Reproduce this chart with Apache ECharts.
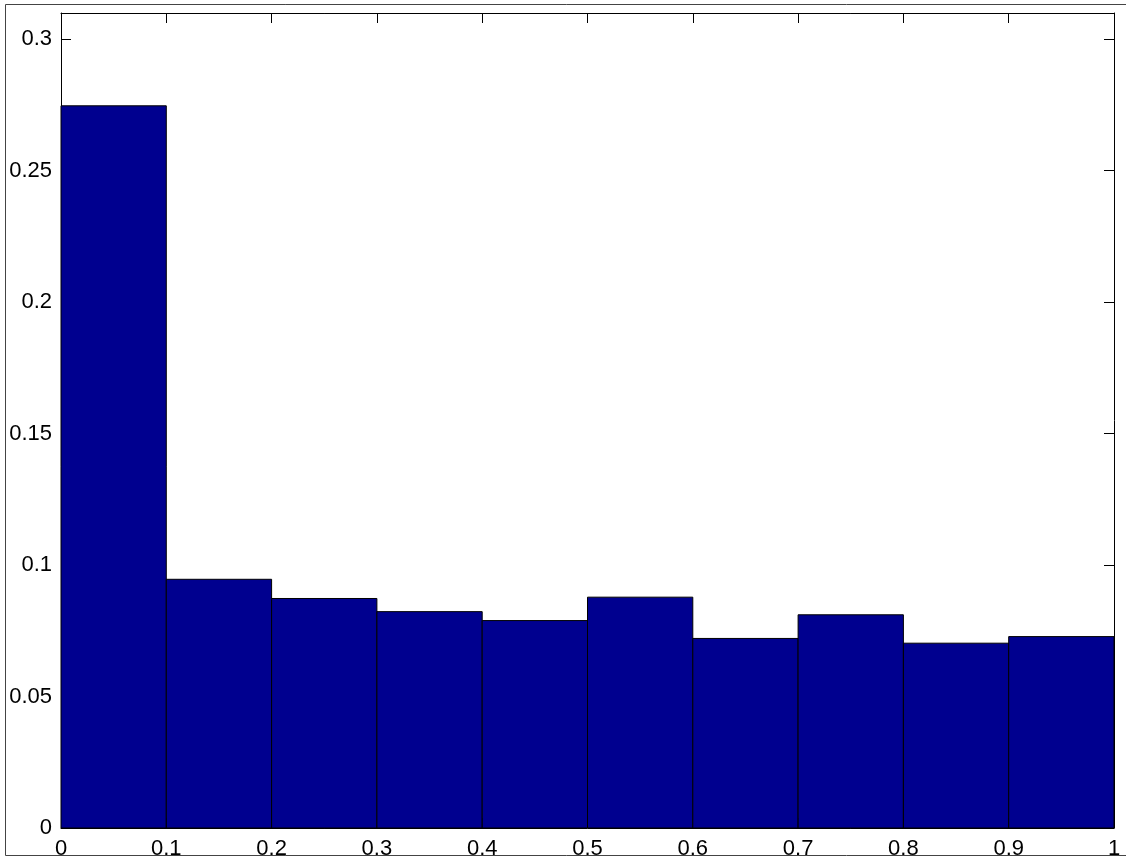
<!DOCTYPE html>
<html>
<head>
<meta charset="utf-8">
<script src="https://cdn.jsdelivr.net/npm/echarts@6/dist/echarts.min.js"></script>
<style>
  html, body { margin: 0; padding: 0; background: #fff; }
  #hist-chart { width: 1126px; height: 857px; }
</style>
</head>
<body>
<div id="hist-chart"></div>
<script>
// histogram bins (left edge, right edge) and normalized counts
const binStarts = [0, 0.1, 0.2, 0.3, 0.4, 0.5, 0.6, 0.7, 0.8, 0.9];
const binEnds = [0.1, 0.2, 0.3, 0.4, 0.5, 0.6, 0.7, 0.8, 0.9, 1.0];
const binValues = [0.2747, 0.0946, 0.0873, 0.0823, 0.0789, 0.0878, 0.0721, 0.0811, 0.0703, 0.0728];

const fontName = "Liberation Sans";
const axisCommon = {
  axisLine: { show: true, onZero: false, lineStyle: { color: "#000", width: 1 } },
  axisTick: { show: true, inside: true, length: 10, lineStyle: { color: "#000" } },
  splitLine: { show: false },
};

const myChart = echarts.init(document.getElementById("hist-chart"));

const option = {
  animation: false,
  backgroundColor: "#fff",
  grid: {
    left: 61,
    top: 13,
    right: 12,
    bottom: 29,
    containLabel: false,
    outerBoundsMode: "none", // labels may run off the bottom edge like the original
  },
  graphic: [
    {
      // outer figure frame
      type: "rect",
      shape: { x: 5.5, y: 4.5, width: 1130, height: 851 },
      style: { fill: "none", stroke: "#444", lineWidth: 1 },
      silent: true,
    },
  ],
  xAxis: [
    Object.assign({}, axisCommon, {
      type: "value",
      position: "bottom",
      min: 0,
      max: 1,
      interval: 0.1,
      axisLabel: { color: "#000", fontFamily: fontName, fontSize: 22, margin: 10 },
    }),
    Object.assign({}, axisCommon, {
      type: "value",
      position: "top",
      min: 0,
      max: 1,
      interval: 0.1,
      axisLabel: { show: false },
    }),
  ],
  yAxis: [
    Object.assign({}, axisCommon, {
      type: "value",
      position: "left",
      min: 0,
      max: 0.31,
      interval: 0.05,
      axisLabel: {
        color: "#000",
        fontFamily: fontName,
        fontSize: 22,
        margin: 9,
        showMaxLabel: false,
      },
    }),
    Object.assign({}, axisCommon, {
      type: "value",
      position: "right",
      min: 0,
      max: 0.31,
      interval: 0.05,
      axisLabel: { show: false },
    }),
  ],
  series: [
    {
      type: "custom",
      xAxisIndex: 0,
      yAxisIndex: 0,
      data: binValues.map((v, i) => [binStarts[i], binEnds[i], v]),
      renderItem: function (params, api) {
        const p0 = api.coord([api.value(0), api.value(2)]);
        const p1 = api.coord([api.value(1), 0]);
        return {
          type: "rect",
          shape: { x: p0[0], y: p0[1], width: p1[0] - p0[0], height: p1[1] - p0[1] },
          style: { fill: "#00008F", stroke: "#000", lineWidth: 1 },
        };
      },
    },
  ],
};

myChart.setOption(option);
</script>
</body>
</html>
